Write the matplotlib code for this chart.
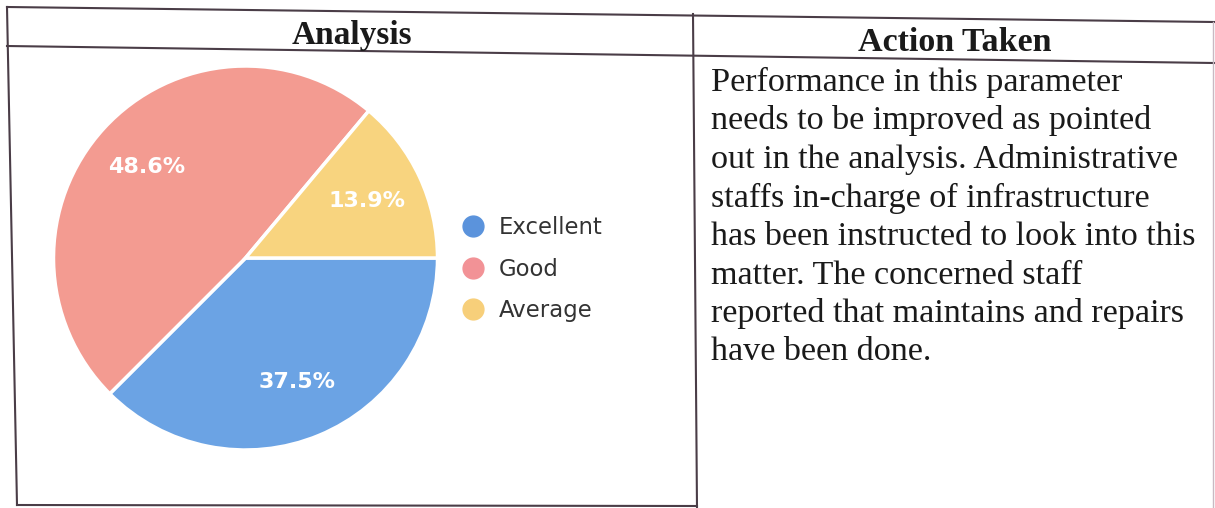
import matplotlib
matplotlib.use("Agg")
import matplotlib.pyplot as plt
from matplotlib.lines import Line2D

# ---- data ----
categories = ["Excellent", "Good", "Average"]
values = [37.5, 48.6, 13.9]
colors = ["#6ba3e4", "#f39b91", "#f8d47f"]
legend_colors = ["#5b93dc", "#f29296", "#f7cf7a"]
header_left = "Analysis"
header_right = "Action Taken"
body_lines = [
    "Performance in this parameter",
    "needs to be improved as pointed",
    "out in the analysis. Administrative",
    "staffs in-charge of infrastructure",
    "has been instructed to look into this",
    "matter. The concerned staff",
    "reported that maintains and repairs",
    "have been done.",
]

W, H = 1215, 508
fig = plt.figure(figsize=(W / 100, H / 100), dpi=100)
fig.patch.set_facecolor("white")

# overlay axes in pixel coordinates (y downward)
bg = fig.add_axes([0, 0, 1, 1])
bg.set_xlim(0, W)
bg.set_ylim(H, 0)
bg.axis("off")

lc = "#4a3d47"
lw = 1.5
# table lines
bg.plot([7, 1214], [7, 22], color=lc, lw=lw)        # top
bg.plot([7, 1214], [46, 63], color=lc, lw=lw)       # header separator
bg.plot([7, 17], [7, 505], color=lc, lw=lw)         # left
bg.plot([693, 697], [14, 508], color=lc, lw=lw)     # middle
bg.plot([1213, 1213], [22, 508], color="#c9b9c2", lw=1.0)  # right (faint)
bg.plot([17, 697], [505, 506], color=lc, lw=lw)     # bottom left col

serif = ["Liberation Serif", "DejaVu Serif"]
bg.text(352, 44, header_left, fontsize=24, fontweight="bold", family=serif,
        ha="center", va="baseline", color="#1a1a1a")
bg.text(955, 51, header_right, fontsize=24.5, fontweight="bold", family=serif,
        ha="center", va="baseline", color="#1a1a1a")

y0, dy = 91, 38.5
for i, line in enumerate(body_lines):
    bg.text(711, y0 + i * dy, line, fontsize=24.6, family=serif,
            ha="left", va="baseline", color="#1a1a1a")

# pie axes: center (245.5, 258), radius 192 px
cx, cy, r = 245.5, 258, 192
pax = fig.add_axes([(cx - r) / W, (H - cy - r) / H, 2 * r / W, 2 * r / H])
wedges, texts, autotexts = pax.pie(
    values, colors=colors, startangle=0, counterclock=False,
    autopct="%1.1f%%", pctdistance=0.7,
    wedgeprops=dict(edgecolor="white", linewidth=2.5),
    textprops=dict(color="white", fontsize=16, family="DejaVu Sans",
                   fontweight="semibold"),
)
pax.set_xlim(-1.0, 1.0)
pax.set_ylim(-1.0, 1.0)
pax.set_aspect("equal")
pax.axis("off")

handles = [Line2D([0], [0], marker="o", linestyle="none", markersize=15,
                  markerfacecolor=c, markeredgecolor=c) for c in legend_colors]
fig.legend(handles, categories, loc="center left",
           bbox_to_anchor=(462 / W, 1 - 269 / H), frameon=False,
           prop=dict(family="DejaVu Sans", size=16.4), labelcolor="#333333",
           handlelength=1.0, handletextpad=0.6, labelspacing=0.82,
           borderpad=0, borderaxespad=0)

fig.savefig("out.png", dpi=100, facecolor="white")
